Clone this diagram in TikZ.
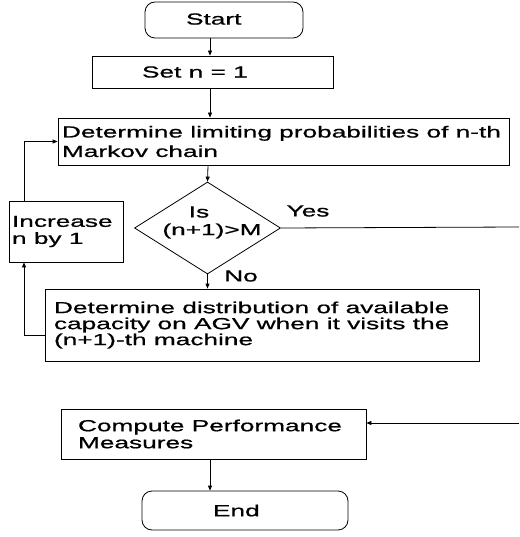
\documentclass[tikz,border=0pt]{standalone}
\usepackage{fontspec}
\setmainfont{Liberation Sans}[FakeStretch=1.64,FakeBold=0.8]
\usetikzlibrary{arrows.meta,shapes.geometric}
\newcommand\fsz[1]{\fontsize{16}{#1}\selectfont}
\begin{document}
\begin{tikzpicture}[x=1pt,y=-1pt,
  txt/.style={font=\fsz{19.5}, execute at begin node={\spaceskip=7.3pt plus 2pt minus 1pt\relax}},
  box/.style={draw, line width=0.8pt, rectangle, inner ysep=0pt, align=left, txt},
  term/.style={box, rounded corners=10pt},
  arr/.style={-{Triangle[length=5pt,width=4pt]}, line width=0.8pt},
  ln/.style={line width=0.8pt}]
\useasboundingbox (0,0) rectangle (519,537);

\node[term, minimum width=158pt, minimum height=36pt, inner xsep=41pt, text width=76pt, text depth=2pt] (start) at (224,20) {Start};
\node[box, minimum width=241pt, minimum height=32pt, inner xsep=50pt, text width=141pt] (setn) at (212.5,72) {Set n = 1};
\node[box, minimum width=451pt, minimum height=47pt, inner xsep=4pt, text width=443pt] (det1) at (283.5,141.5)
  {\mbox{Determine limiting probabilities of n-th}\\\mbox{Markov chain}};
\node[draw, diamond, line width=0.8pt, inner sep=0pt, minimum width=146pt, minimum height=92pt] (dec) at (207.5,228) {};
\node[txt, inner sep=0pt] (is) at (199,212) {Is};
\node[txt, inner sep=0pt] (cond) at (212,231) {(n+1)>M};
\node[txt, inner sep=0pt] (yes) at (308,211) {Yes};
\node[txt, inner sep=0pt] (no) at (241,276) {No};
\node[box, minimum width=114pt, minimum height=61pt, inner xsep=3pt, text width=108pt, font=\fsz{17}] (incr) at (66,231.5)
  {\mbox{Increase}\\\mbox{n by 1}};
\node[box, minimum width=434pt, minimum height=72pt, inner xsep=9pt, text width=416pt, font=\fsz{16}] (det2) at (262,325)
  {\mbox{Determine distribution of available}\\\mbox{capacity on AGV when it visits the}\\\mbox{(n+1)-th machine}};
\node[box, minimum width=305pt, minimum height=50pt, inner xsep=17pt, text width=271pt, font=\fsz{17}] (comp) at (213.5,434)
  {\mbox{Compute Performance}\\\mbox{Measures}};
\node[term, minimum width=206pt, minimum height=39pt, inner xsep=71pt, text width=64pt] (end) at (245,510.5) {End};

\coordinate (xa) at (210,0);
\coordinate (xb) at (208,0);
\coordinate (xl) at (24,0);
\coordinate (yesend) at (519,227);
\coordinate (inend) at (519,423);

\draw[arr] (start.south -| xa) -- (setn.north -| xa);
\draw[arr] (setn.south -| xa) -- (det1.north -| xa);
\draw[arr] (det1.south -| xb) -- (dec.north);
\draw[arr] (dec.south) -- (det2.north -| dec.south);
\draw[ln] (dec.east) -- (yesend);
\draw[arr] (det2.west |- 0,335) -- (xl |- 0,335) -- (incr.south -| xl);
\draw[arr] (incr.north -| xl) -- (xl |- det1.west) -- (det1.west);
\draw[arr] (inend) -- (comp.east |- inend);
\draw[arr] (comp.south -| xa) -- (end.north -| xa);
\end{tikzpicture}
\end{document}
